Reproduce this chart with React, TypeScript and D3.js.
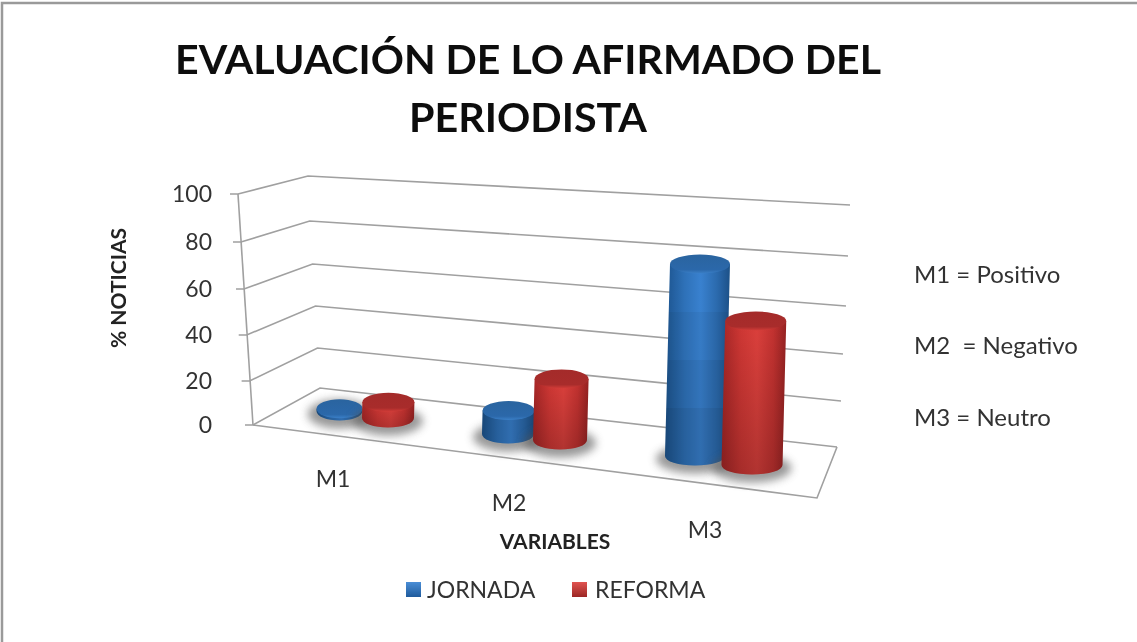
import React from "react";
import * as d3 from "d3";

const titleLines = ["EVALUACIÓN DE LO AFIRMADO DEL", "PERIODISTA"];
const categories = ["M1", "M2", "M3"];
const seriesNames = ["JORNADA", "REFORMA"];
const jornada = [1, 10, 80];
const reforma = [7, 26, 60];
const valueTicks = [0, 20, 40, 60, 80, 100];
const notes = ["M1 = Positivo", "M2  = Negativo", "M3 = Neutro"];

// Layout of the projected 3-D box (pixels at each value tick)
const axisFrontX = [253, 249.6, 246.7, 244, 241, 238];
const axisFrontY = [425, 381, 335, 289, 242, 194];
const wallLeftX = [320, 317.5, 315.5, 312.6, 309.7, 308];
const wallLeftY = [388, 348, 306, 264, 221, 176];
const wallRightX = [837, 841, 843, 846, 848, 850];
const wallRightY = [447, 401, 354, 306, 256, 205];
const floorFrontRight = { x: 817, y: 498 };

const xFront = d3.scaleLinear().domain(valueTicks).range(axisFrontX);
const yFront = d3.scaleLinear().domain(valueTicks).range(axisFrontY);
const xWallL = d3.scaleLinear().domain(valueTicks).range(wallLeftX);
const yWallL = d3.scaleLinear().domain(valueTicks).range(wallLeftY);
const xWallR = d3.scaleLinear().domain(valueTicks).range(wallRightX);
const yWallR = d3.scaleLinear().domain(valueTicks).range(wallRightY);

const catIndex = [0, 1, 2];
const layout = [
  { cx: d3.scaleLinear().domain(catIndex).range([339.5, 508, 695]), cy: d3.scaleLinear().domain(catIndex).range([411, 434, 456]), rx: d3.scaleLinear().domain(catIndex).range([23, 26, 30]), ry: 9.5 },
  { cx: d3.scaleLinear().domain(catIndex).range([388, 560, 752]), cy: d3.scaleLinear().domain(catIndex).range([418, 440, 465]), rx: d3.scaleLinear().domain(catIndex).range([26, 27, 30.5]), ry: 9.5 },
];
const pxPerUnit = d3.scaleLinear().domain(catIndex).range([2.25, 2.35, 2.4]);
const lean = 0.026;

const font = "Lato, 'Open Sans', sans-serif";
const line = d3.line();

function Cylinder({ s, c, value }: { s: number; c: number; value: number }) {
  const L = layout[s];
  const cx = L.cx(c), cy = L.cy(c), rx = L.rx(c), ry = L.ry;
  const h = value * pxPerUnit(c);
  const tx = cx + h * lean, ty = cy - h;
  const id = `${seriesNames[s]}-${c}`;
  const body = `M${cx - rx},${cy} L${tx - rx},${ty} L${tx + rx},${ty} L${cx + rx},${cy} A${rx},${ry} 0 0 1 ${cx - rx},${cy} Z`;
  const bands = s === 0 ? d3.range(0, value, 20) : [];
  return (
    <g>
      <ellipse cx={cx} cy={cy + 3} rx={rx + 9} ry={ry + 5} fill="#555" opacity={0.6} filter="url(#shadow)" />
      <clipPath id={`clip-${id}`}><path d={body} /></clipPath>
      <path d={body} fill={`url(#body${s})`} />
      <g clipPath={`url(#clip-${id})`}>
        {s === 0
          ? bands.map((v, i) => (
              <rect key={v} x={cx - rx - 5} width={2 * rx + 20}
                y={cy - (v + 20) * pxPerUnit(c)} height={20 * pxPerUnit(c) + (i === 0 ? ry + 2 : 0)}
                fill="#000" opacity={Math.max(0, 0.16 - i * 0.05)} />
            ))
          : <rect x={cx - rx - 5} width={2 * rx + 20} y={ty} height={h + ry + 2} fill="url(#redShade)" />}
      </g>
      <ellipse cx={tx} cy={ty} rx={rx} ry={ry} fill={`url(#top${s})`} />
    </g>
  );
}

export default function App() {
  return (
    <svg width={1137} height={642} style={{ position: "absolute", left: 0, top: 0, display: "block", background: "#fff" }}>
      <defs>
        <filter id="shadow" x="-40%" y="-80%" width="180%" height="260%"><feGaussianBlur stdDeviation="4" /></filter>
        <filter id="soft" x="-5%" y="-5%" width="110%" height="110%"><feGaussianBlur stdDeviation="0.45" /></filter>
        <linearGradient id="body0">
          <stop offset="0" stopColor="#1d558f" />
          <stop offset="0.3" stopColor="#2f73bb" />
          <stop offset="0.55" stopColor="#3a83d2" />
          <stop offset="0.8" stopColor="#2c6cb0" />
          <stop offset="1" stopColor="#1d5289" />
        </linearGradient>
        <linearGradient id="body1">
          <stop offset="0" stopColor="#a52626" />
          <stop offset="0.3" stopColor="#cf3734" />
          <stop offset="0.55" stopColor="#dc403c" />
          <stop offset="0.8" stopColor="#c33230" />
          <stop offset="1" stopColor="#962222" />
        </linearGradient>
        <linearGradient id="redShade" x1="0" x2="0" y1="0" y2="1">
          <stop offset="0" stopColor="#000" stopOpacity="0" />
          <stop offset="1" stopColor="#000" stopOpacity="0.2" />
        </linearGradient>
        <linearGradient id="top0" x1="0" x2="0" y1="0" y2="1">
          <stop offset="0" stopColor="#2a649f" />
          <stop offset="0.8" stopColor="#2b68aa" />
          <stop offset="1" stopColor="#3b80c8" />
        </linearGradient>
        <linearGradient id="top1" x1="0" x2="0" y1="0" y2="1">
          <stop offset="0" stopColor="#a42b2a" />
          <stop offset="0.8" stopColor="#a82c2b" />
          <stop offset="1" stopColor="#d23c38" />
        </linearGradient>
        <linearGradient id="legend0" x1="0" x2="0" y1="0" y2="1">
          <stop offset="0" stopColor="#4a8ed6" /><stop offset="1" stopColor="#1f5a9c" />
        </linearGradient>
        <linearGradient id="legend1" x1="0" x2="0" y1="0" y2="1">
          <stop offset="0" stopColor="#e05450" /><stop offset="1" stopColor="#9c2625" />
        </linearGradient>
      </defs>

      <g filter="url(#soft)">
        <path d="M2,642 V3 H1137" fill="none" stroke="#9a9a9a" strokeWidth={2.5} />

        {titleLines.map((t, i) => (
          <text key={t} x={528} y={[74, 132][i]} textAnchor="middle" fontFamily={font} fontWeight={700} fontSize={40} fill="#111"
            textLength={[706, 238][i]} lengthAdjust="spacingAndGlyphs">{t}</text>
        ))}

        {/* walls and floor */}
        <g fill="none" stroke="#a0a0a0" strokeWidth={1.6}>
          {valueTicks.map((v) => (
            <path key={v} d={line([[xFront(v) - 8, yFront(v)], [xFront(v), yFront(v)], [xWallL(v), yWallL(v)], [xWallR(v), yWallR(v)]])!} />
          ))}
          <path d={line([[xFront(0), yFront(0)], [xFront(100), yFront(100)]])!} />
          <path d={line([[xFront(0), yFront(0)], [floorFrontRight.x, floorFrontRight.y], [xWallR(0), yWallR(0)]])!} />
        </g>

        {valueTicks.map((v) => (
          <text key={v} x={212} y={yFront(v) + 8} textAnchor="end" fontFamily={font} fontSize={23} fill="#333">{v}</text>
        ))}
      </g>

      {categories.map((_, c) => (
        <g key={c}>
          <Cylinder s={0} c={c} value={jornada[c]} />
          <Cylinder s={1} c={c} value={reforma[c]} />
        </g>
      ))}

      <g filter="url(#soft)">
        {categories.map((cat, c) => (
          <text key={cat} x={[333, 509, 705][c]} y={[487, 511, 538][c]} textAnchor="middle" fontFamily={font} fontSize={23} fill="#333">{cat}</text>
        ))}
        <text x={555} y={549} textAnchor="middle" fontFamily={font} fontWeight={700} fontSize={21} fill="#222">VARIABLES</text>
        <text transform="translate(126,288) rotate(-90)" textAnchor="middle" fontFamily={font} fontWeight={700} fontSize={21} fill="#222">% NOTICIAS</text>

        {notes.map((n, i) => (
          <text key={n} x={914} y={[283, 354, 426][i]} fontFamily={font} fontSize={24} fill="#333" xmlSpace="preserve">{n}</text>
        ))}

        {seriesNames.map((n, i) => (
          <g key={n}>
            <rect x={[406, 572][i]} y={582} width={15} height={15} fill={`url(#legend${i})`} />
            <text x={[427, 595][i]} y={598} fontFamily={font} fontSize={23} fill="#333">{n}</text>
          </g>
        ))}
      </g>
    </svg>
  );
}
